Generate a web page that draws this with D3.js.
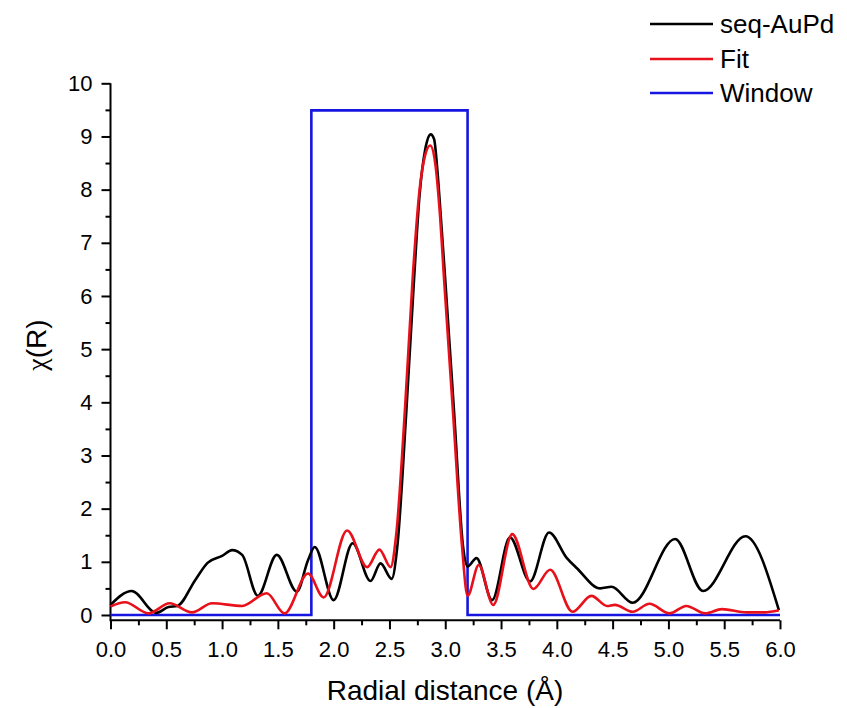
<!DOCTYPE html>
<html>
<head>
<meta charset="utf-8">
<script src="https://cdn.jsdelivr.net/npm/d3@7"></script>
<style>
  html, body { margin: 0; padding: 0; background: #fff; }
  svg text { font-family: Arial, "Liberation Sans", sans-serif; fill: #000; }
</style>
</head>
<body>
<svg id="chart" width="847" height="708"></svg>
<script>
// ---- Data ----
const seqR = [0.00,0.19,0.41,0.52,0.60,0.76,0.87,1.00,1.09,1.18,1.32,1.49,1.67,1.77,1.83,2.00,2.17,2.33,2.42,2.52,2.57,2.65,2.72,2.77,2.82,2.87,2.90,2.93,2.96,3.00,3.08,3.16,3.20,3.28,3.42,3.58,3.76,3.93,4.09,4.18,4.39,4.49,4.68,5.06,5.31,5.69,5.99];
const seqV = [0.19,0.45,0.04,0.15,0.17,0.66,0.98,1.11,1.22,1.13,0.36,1.13,0.44,1.03,1.28,0.28,1.35,0.64,0.97,0.68,1.28,3.79,6.30,7.90,8.75,9.04,8.95,8.35,7.50,6.30,3.79,1.28,0.91,1.07,0.28,1.46,0.63,1.55,1.07,0.88,0.50,0.53,0.23,1.43,0.45,1.48,0.09];

const fitR = [0.00,0.13,0.34,0.53,0.73,0.91,1.18,1.40,1.56,1.77,1.91,2.12,2.30,2.41,2.51,2.56,2.64,2.71,2.77,2.82,2.865,2.91,2.95,2.99,3.07,3.15,3.20,3.30,3.43,3.60,3.79,3.94,4.14,4.31,4.45,4.52,4.68,4.83,5.01,5.16,5.33,5.48,5.70,5.86,5.99];
const fitV = [0.16,0.24,0.03,0.22,0.05,0.22,0.17,0.41,0.03,0.78,0.33,1.59,0.90,1.23,0.90,1.50,3.90,6.40,8.00,8.65,8.83,8.50,7.60,6.30,3.80,1.30,0.36,0.94,0.19,1.52,0.49,0.85,0.06,0.36,0.17,0.19,0.06,0.21,0.03,0.17,0.03,0.11,0.05,0.05,0.09];

const windowR = [0, 1.8, 1.8, 3.2, 3.2, 6.0];
const windowV = [0, 0, 9.49, 9.49, 0, 0];

const seriesNames = ["seq-AuPd", "Fit", "Window"];
const seriesColors = ["#000000", "#e8101a", "#1616e0"];

const xTicks = [0,0.5,1,1.5,2,2.5,3,3.5,4,4.5,5,5.5,6];
const yTicks = [0,1,2,3,4,5,6,7,8,9,10];

// ---- Layout ----
const svg = d3.select("#chart");
const x = d3.scaleLinear().domain([0, 6]).range([110.5, 780]);
const y = d3.scaleLinear().domain([-0.1, 10]).range([620.3, 83.3]);

// Axes
const xAxis = d3.axisBottom(x).tickValues(xTicks).tickFormat(d3.format(".1f")).tickSize(9).tickPadding(12);
const xMinor = d3.axisBottom(x).tickValues(d3.range(0.25, 6, 0.5)).tickFormat("").tickSize(5);
const yAxis = d3.axisLeft(y).tickValues(yTicks).tickFormat(d3.format("d")).tickSize(9).tickPadding(9);
const yMinor = d3.axisLeft(y).tickValues(d3.range(0.5, 10, 1)).tickFormat("").tickSize(5);

function styleAxis(g) {
  g.select(".domain").attr("stroke", "#000").attr("stroke-width", 2);
  g.selectAll(".tick line").attr("stroke", "#000").attr("stroke-width", 2);
  g.selectAll("text").attr("font-size", 22).attr("fill", "#000")
    .attr("font-family", "Arial, 'Liberation Sans', sans-serif");
}

const gx = svg.append("g").attr("transform", `translate(0,${y(-0.1)})`).call(xAxis).call(styleAxis);
gx.select(".domain").attr("d", `M${x(0)},0H${x(6)}`);
const gxm = svg.append("g").attr("transform", `translate(0,${y(-0.1)})`).call(xMinor).call(styleAxis);
gxm.select(".domain").remove();

const gy = svg.append("g").attr("transform", `translate(${x(0)},0)`).call(yAxis).call(styleAxis);
gy.select(".domain").attr("d", `M0,${y(10)}V${y(-0.1) + 1}`);
const gym = svg.append("g").attr("transform", `translate(${x(0)},0)`).call(yMinor).call(styleAxis);
gym.select(".domain").remove();

// Lines
const smooth = d3.line().x(d => x(d[0])).y(d => y(d[1])).curve(d3.curveMonotoneX);
const straight = d3.line().x(d => x(d[0])).y(d => y(d[1]));

svg.append("path").datum(windowR.map((r, i) => [r, windowV[i]]))
  .attr("d", straight).attr("fill", "none").attr("stroke", seriesColors[2]).attr("stroke-width", 2.6);
svg.append("path").datum(seqR.map((r, i) => [r, seqV[i]]))
  .attr("d", smooth).attr("fill", "none").attr("stroke", seriesColors[0]).attr("stroke-width", 2.6)
  .attr("stroke-linejoin", "round");
svg.append("path").datum(fitR.map((r, i) => [r, fitV[i]]))
  .attr("d", smooth).attr("fill", "none").attr("stroke", seriesColors[1]).attr("stroke-width", 2.6)
  .attr("stroke-linejoin", "round");

// Axis titles
svg.append("text").attr("x", 445).attr("y", 700).attr("text-anchor", "middle")
  .attr("font-size", 28).text("Radial distance (Å)");
const yt = svg.append("text").attr("transform", "translate(46,345) rotate(-90)").attr("text-anchor", "middle")
  .attr("font-size", 28);
yt.append("tspan").attr("font-family", "'Liberation Serif', 'DejaVu Serif', serif").text("χ");
yt.append("tspan").text("(R)");

// Legend
const legY = [24, 59, 93];
seriesNames.forEach((name, i) => {
  svg.append("line").attr("x1", 650).attr("x2", 713).attr("y1", legY[i]).attr("y2", legY[i])
    .attr("stroke", seriesColors[i]).attr("stroke-width", 2.6);
  svg.append("text").attr("x", 720).attr("y", legY[i]).attr("dy", "0.35em")
    .attr("font-size", 26).text(name);
});
</script>
</body>
</html>
